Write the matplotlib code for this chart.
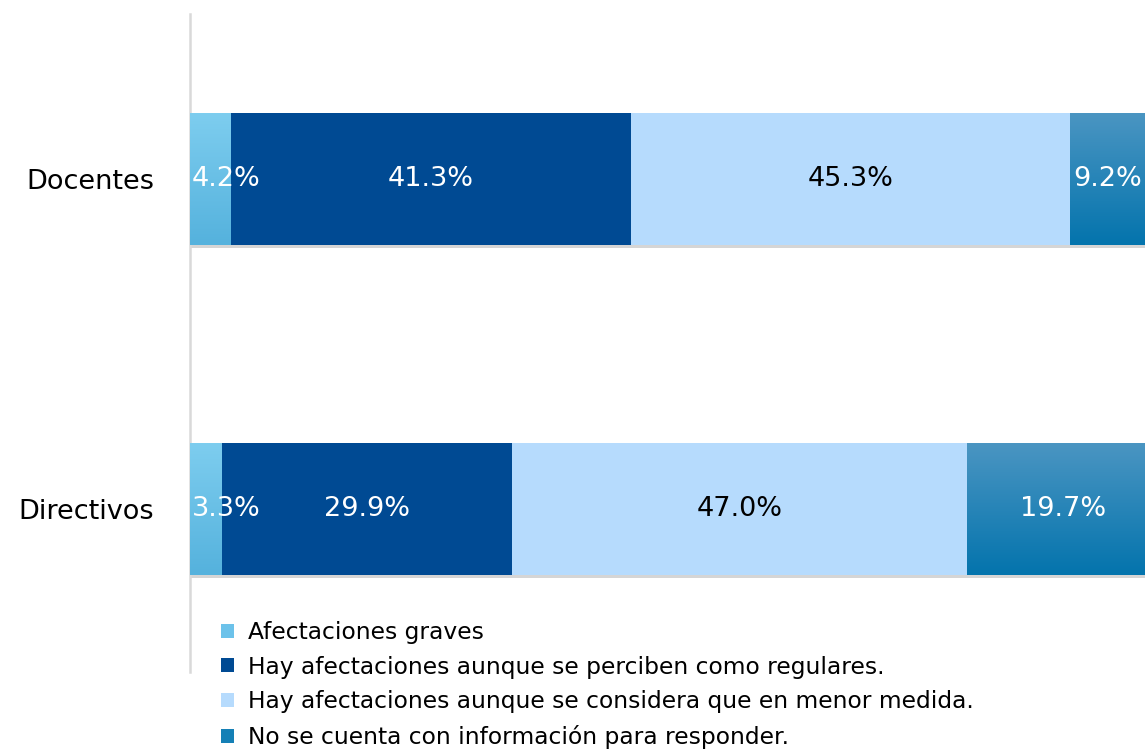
import numpy as np
import matplotlib
matplotlib.use('Agg')
import matplotlib.pyplot as plt
from matplotlib.patches import Patch
from matplotlib.colors import LinearSegmentedColormap
import matplotlib.patheffects as pe

plt.rcParams['font.family'] = ['DejaVu Sans']

# Datos
grupos = ['Directivos', 'Docentes']
categorias = ['Afectaciones graves',
              'Hay afectaciones aunque se perciben como regulares.',
              'Hay afectaciones aunque se considera que en menor medida.',
              'No se cuenta con información para responder.']
graves = [3.3, 4.2]
regulares = [29.9, 41.3]
menor = [47.0, 45.3]
sin_info = [19.7, 9.2]

colores = ['#6cc2ea', '#004a93', '#b6dbfd', '#1580b6']
# degradado: (arriba, abajo)
gradientes = {0: ('#7dcdef', '#55b2dd'), 3: ('#4a95c2', '#0474ad')}
color_texto = ['white', 'white', 'black', 'white']

fig = plt.figure(figsize=(11.45, 7.51), dpi=100)
ax = fig.add_axes([190 / 1145, 79 / 751, 969 / 1145, 658 / 751])
ax.set_xlim(0, 100)
ax.set_ylim(-0.494, 1.5)

# borde derecho visible de la figura en unidades de datos
x_visible = ax.transData.inverted().transform(fig.transFigure.transform((1, 0)))[0]

series = [graves, regulares, menor, sin_info]
y = np.arange(len(grupos))
izq = np.zeros(len(grupos))
sombra = [pe.SimplePatchShadow(offset=(0, -2), shadow_rgbFace='#777777', alpha=0.3), pe.Normal()]

for i, vals in enumerate(series):
    vals = np.array(vals)
    barras = ax.barh(y, vals, left=izq, height=0.4, color=colores[i], zorder=2,
                     path_effects=sombra)
    if i in gradientes:
        cmap = LinearSegmentedColormap.from_list('g%d' % i, list(gradientes[i]))
        for b in barras:
            x0, y0 = b.get_x(), b.get_y()
            w, h = b.get_width(), b.get_height()
            im = ax.imshow(np.linspace(1, 0, 64).reshape(-1, 1), cmap=cmap, aspect='auto',
                           extent=[x0, x0 + w, y0, y0 + h], origin='lower', zorder=3)
            im.set_clip_path(b)
    for j, v in enumerate(vals):
        etiqueta = f'{v:.1f}%'
        if v < 6:
            ax.text(izq[j] + 0.2, y[j], etiqueta, ha='left', va='center',
                    color=color_texto[i], fontsize=19.5, zorder=5)
        elif izq[j] + v / 2 + 3.5 > x_visible:
            ax.text(x_visible - 0.3, y[j], etiqueta, ha='right', va='center',
                    color=color_texto[i], fontsize=19.5, zorder=5)
        else:
            ax.text(izq[j] + v / 2, y[j], etiqueta, ha='center', va='center',
                    color=color_texto[i], fontsize=19.5, zorder=5)
    izq += vals

ax.set_yticks(y)
ax.set_yticklabels(grupos, fontsize=19.5)
ax.tick_params(axis='y', length=0, pad=26)
ax.set_xticks([])
for s in ['top', 'right', 'bottom']:
    ax.spines[s].set_visible(False)
ax.spines['left'].set_color('#d9d9d9')
ax.spines['left'].set_linewidth(1.8)

handles = [Patch(facecolor=c, edgecolor='none') for c in colores]
fig.legend(handles, categorias, loc='upper left', bbox_to_anchor=(221 / 1145, 1 - 621 / 751),
           frameon=False, fontsize=16.8, handlelength=0.55, handleheight=0.55,
           handletextpad=0.6, labelspacing=0.5, borderaxespad=0, borderpad=0)

fig.savefig('out.png', dpi=100)
